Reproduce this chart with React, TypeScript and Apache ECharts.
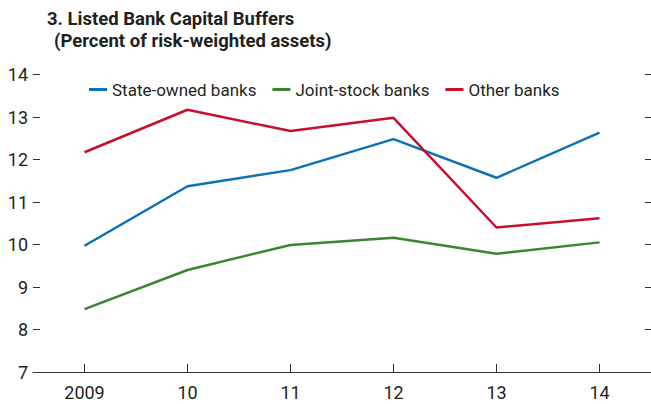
import React, { useEffect, useRef } from "react";
import * as echarts from "echarts";

const years = ["2009", "10", "11", "12", "13", "14"];
const stateOwned = [9.97, 11.37, 11.75, 12.48, 11.57, 12.63];
const jointStock = [8.48, 9.4, 9.99, 10.16, 9.78, 10.05];
const otherBanks = [12.17, 13.17, 12.67, 12.98, 10.4, 10.62];
const titleLines = ["3. Listed Bank Capital Buffers", "(Percent of risk-weighted assets)"];

const FONT = "'Liberation Sans Narrow', 'Arial Narrow', Roboto, sans-serif";
const TEXT = "#231f20";

export default function App() {
  const ref = useRef<HTMLDivElement>(null);
  useEffect(() => {
    document.body.style.margin = "0";
    const chart = echarts.init(ref.current!, null, { renderer: "svg" });
    const axisColor = "#333";
    chart.setOption({
      animation: false,
      textStyle: { fontFamily: FONT },
      graphic: [
        {
          type: "text",
          left: 47,
          top: 9,
          style: { text: titleLines[0], font: `bold 18.5px ${FONT}`, fill: TEXT },
        },
        {
          type: "text",
          left: 54,
          top: 31,
          style: { text: titleLines[1], font: `bold 18.5px ${FONT}`, fill: TEXT },
        },
      ],
      legend: {
        left: 84,
        top: 76,
        itemWidth: 18,
        itemHeight: 3,
        itemGap: 16,
        icon: "rect",
        textStyle: { fontSize: 17, color: TEXT, fontFamily: FONT },
        data: ["State-owned banks", "Joint-stock banks", "Other banks"],
      },
      grid: { left: 33, right: 0, top: 74.5, bottom: 32, containLabel: false },
      xAxis: {
        type: "category",
        data: years,
        boundaryGap: true,
        axisLine: { show: true, lineStyle: { color: axisColor, width: 1 } },
        axisTick: { show: true, inside: true, length: 8, alignWithLabel: true, lineStyle: { color: axisColor } },
        axisLabel: { fontSize: 18, color: TEXT, margin: 11, fontFamily: FONT },
        splitLine: { show: false },
      },
      yAxis: [
        {
          type: "value",
          min: 7,
          max: 14,
          interval: 1,
          axisLine: { show: false },
          axisTick: { show: true, inside: true, length: 7, lineStyle: { color: axisColor } },
          axisLabel: { fontSize: 18, color: TEXT, margin: 5, fontFamily: FONT },
          splitLine: { show: false },
        },
        {
          type: "value",
          position: "right",
          min: 7,
          max: 14,
          interval: 1,
          axisLine: { show: false },
          axisTick: { show: true, inside: true, length: 6, lineStyle: { color: axisColor } },
          axisLabel: { show: false },
          splitLine: { show: false },
        },
      ],
      series: [
        {
          name: "State-owned banks",
          type: "line",
          data: stateOwned,
          symbol: "none",
          lineStyle: { width: 2.5, color: "#0b72ba" },
          itemStyle: { color: "#0b72ba" },
        },
        {
          name: "Joint-stock banks",
          type: "line",
          data: jointStock,
          symbol: "none",
          lineStyle: { width: 2.5, color: "#3b8431" },
          itemStyle: { color: "#3b8431" },
        },
        {
          name: "Other banks",
          type: "line",
          data: otherBanks,
          symbol: "none",
          lineStyle: { width: 2.5, color: "#c8102e" },
          itemStyle: { color: "#c8102e" },
        },
      ],
    });
    return () => chart.dispose();
  }, []);
  return <div ref={ref} style={{ width: 651, height: 404 }} />;
}
